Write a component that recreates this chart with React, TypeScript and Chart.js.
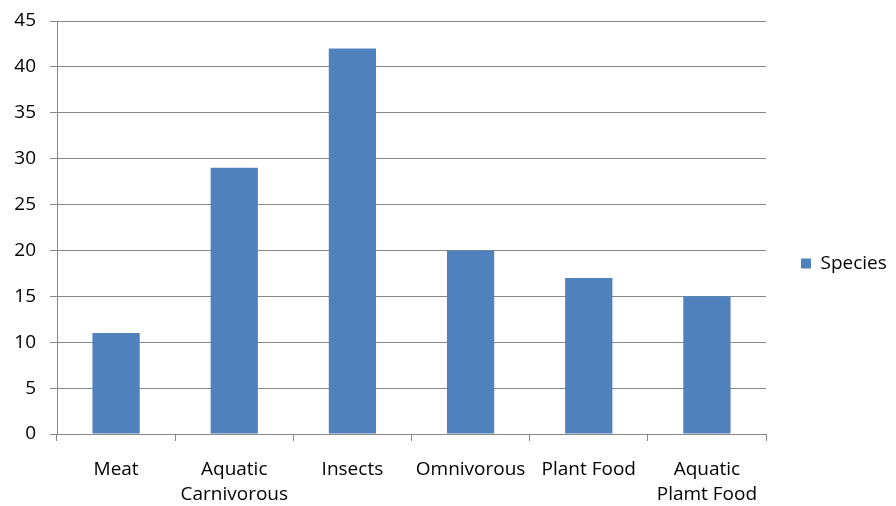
import React, { useEffect, useRef } from "react";
import { Chart, registerables } from "chart.js";

Chart.register(...registerables);

const categories: (string | string[])[] = [
  "Meat",
  ["Aquatic", "Carnivorous"],
  "Insects",
  "Omnivorous",
  "Plant Food",
  ["Aquatic", "Plamt Food"],
];
const speciesValues = [11, 29, 42, 20, 17, 15];
const seriesName = "Species";

export default function App() {
  const ref = useRef<HTMLCanvasElement | null>(null);
  useEffect(() => {
    document.body.style.margin = "0";
    const ctx = ref.current!;
    const family = "'Open Sans', sans-serif";
    const chart = new Chart(ctx, {
      type: "bar",
      data: {
        labels: categories,
        datasets: [
          {
            label: seriesName,
            data: speciesValues,
            backgroundColor: "#4F81BD",
            borderWidth: 0,
            categoryPercentage: 1,
            barPercentage: 0.4,
          },
        ],
      },
      options: {
        animation: false,
        responsive: false,
        maintainAspectRatio: false,
        layout: { padding: { top: 21, left: 0, right: 0, bottom: 0 } },
        plugins: {
          tooltip: { enabled: false },
          legend: {
            position: "right",
            maxWidth: 130,
            labels: {
              boxWidth: 10,
              boxHeight: 10,
              color: "#000",
              font: { family, size: 19 },
              padding: 35,
            },
          },
        },
        scales: {
          x: {
            offset: true,
            grid: {
              offset: true,
              display: true,
              drawOnChartArea: false,
              drawTicks: true,
              tickLength: 7,
              color: "#868686",
            },
            border: { display: true, color: "#868686" },
            ticks: {
              color: "#000",
              font: { family, size: 19, lineHeight: 1.32 },
              padding: 16,
              maxRotation: 0,
              autoSkip: false,
            },
            afterFit: (s: any) => {
              s.height = 72;
            },
          },
          y: {
            min: 0,
            max: 45,
            ticks: { stepSize: 5, color: "#000", font: { family, size: 19 }, padding: 14 },
            grid: { color: "#868686", tickLength: 7 },
            border: { display: true, color: "#868686" },
            afterFit: (s: any) => {
              s.width = 57;
              s.paddingTop = 0;
              s.paddingBottom = 0;
            },
          },
        },
      },
    });
    return () => chart.destroy();
  }, []);
  return <canvas ref={ref} width={896} height={506} style={{ display: "block" }} />;
}
